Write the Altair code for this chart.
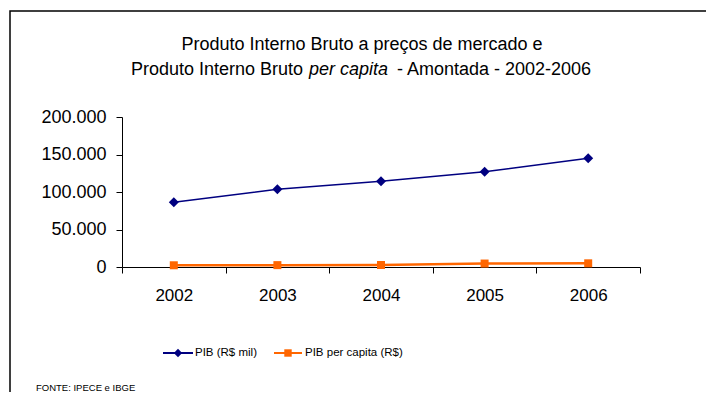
import altair as alt
import pandas as pd

# ---- data ----
years = ["2002", "2003", "2004", "2005", "2006"]
pib_mil = [86300, 103600, 114300, 127100, 144900]          # PIB (R$ mil)
pib_per_capita = [2300, 2500, 2700, 4600, 4900]            # PIB per capita (R$)
series_names = ["PIB (R$ mil)", "PIB per capita (R$)"]
y_ticks = [0, 50000, 100000, 150000, 200000]

title_line1 = "Produto Interno Bruto a preços de mercado  e"
title_line2a = "Produto Interno Bruto"
title_line2b = "per capita"
title_line2c = "- Amontada - 2002-2006"
source_text = "FONTE: IPECE e IBGE"

FONT = "Liberation Sans, Arial, sans-serif"

df_a = pd.DataFrame({"ano": years, "valor": pib_mil})
df_b = pd.DataFrame({"ano": years, "valor": pib_per_capita})

W, H = 518, 150

x_enc = alt.X(
    "ano:O",
    scale=alt.Scale(type="band", paddingInner=0, paddingOuter=0),
    axis=alt.Axis(
        title=None, labelAngle=0, tickBand="extent", labelFontSize=17,
        labelPadding=14, tickSize=6, domainColor="black", tickColor="black",
        labelColor="black", labelFont=FONT, grid=False,
    ),
)
y_enc = alt.Y(
    "valor:Q",
    scale=alt.Scale(domain=[0, 200000], nice=False),
    axis=alt.Axis(
        title=None, values=y_ticks, grid=False, tickSize=6, labelFontSize=18,
        labelPadding=10, domainColor="black", tickColor="black",
        labelColor="black", labelFont=FONT,
        labelExpr="replace(format(datum.value, ','), ',', '.')",
    ),
)

line_a = alt.Chart(df_a).mark_line(
    color="#000080", strokeWidth=1.5,
    point=alt.OverlayMarkDef(shape="diamond", size=100, filled=True, color="#000080", opacity=1),
).encode(x=x_enc, y=y_enc)

line_b = alt.Chart(df_b).mark_line(
    color="#FF6600", strokeWidth=2.5,
    point=alt.OverlayMarkDef(shape="square", size=64, filled=True, color="#FF6600", opacity=1),
).encode(x=x_enc, y=y_enc)


def one():
    return alt.Data(values=[{"k": 0}])


def txt(s, x, y, size, align="left", style="normal", font=FONT):
    return alt.Chart(one()).mark_text(
        text=s, align=align, baseline="middle", fontSize=size,
        fontStyle=style, font=font, color="black",
    ).encode(x=alt.value(x), y=alt.value(y))


border = alt.Chart(one()).mark_rect(
    filled=False, stroke="black", strokeWidth=1.5
).encode(x=alt.value(-112), x2=alt.value(900), y=alt.value(-106), y2=alt.value(600))

t1 = txt(title_line1, 240, -72, 18, align="center")
t2a = txt(title_line2a, 181, -47, 18, align="right")
t2b = txt(title_line2b, 187, -47, 18, align="left", style="italic")
t2c = txt(title_line2c, 275, -47, 18, align="left")

leg_rule_a = alt.Chart(one()).mark_rule(color="#000080", strokeWidth=2).encode(
    x=alt.value(41), x2=alt.value(71), y=alt.value(236))
leg_pt_a = alt.Chart(one()).mark_point(shape="diamond", size=70, filled=True, color="#000080", opacity=1).encode(
    x=alt.value(56), y=alt.value(236))
leg_txt_a = txt(series_names[0], 73, 236, 11.5)

leg_rule_b = alt.Chart(one()).mark_rule(color="#FF6600", strokeWidth=2).encode(
    x=alt.value(152), x2=alt.value(180), y=alt.value(236))
leg_pt_b = alt.Chart(one()).mark_point(shape="square", size=55, filled=True, color="#FF6600", opacity=1).encode(
    x=alt.value(166), y=alt.value(236))
leg_txt_b = txt(series_names[1], 183, 236, 11.5)

src = txt(source_text, -86, 271, 9.5)

chart = alt.layer(
    border, line_a, line_b, t1, t2a, t2b, t2c,
    leg_rule_a, leg_pt_a, leg_txt_a, leg_rule_b, leg_pt_b, leg_txt_b, src,
).properties(
    width=W, height=H,
    autosize=alt.AutoSizeParams(type="none"),
    padding={"left": 114, "top": 109, "right": 66, "bottom": 125},
    background="white",
).configure_view(stroke="transparent")

chart.save("out.html", embed_options={"renderer": "svg", "actions": False})
